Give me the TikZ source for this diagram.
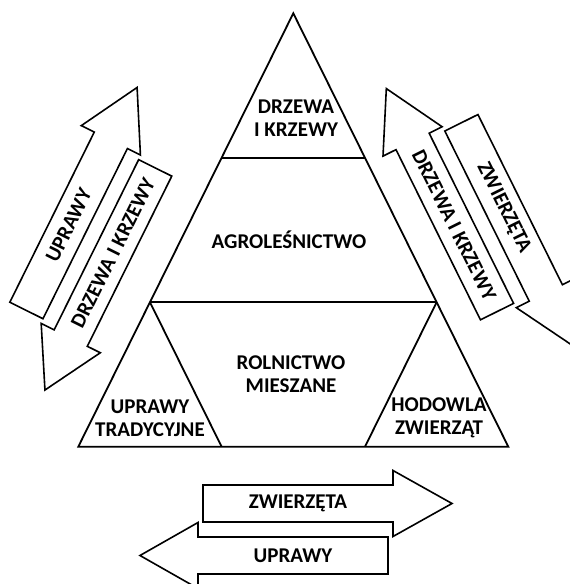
\documentclass[tikz,border=0pt]{standalone}
\usepackage{fontspec}
\setmainfont{Carlito}
\usetikzlibrary{calc}

\begin{document}
\begin{tikzpicture}[x=1pt,y=1pt]

        \useasboundingbox (0,0) rectangle (570,584);
        \clip (0,0) rectangle (570,584);

        \tikzset{every node/.style={font=\bfseries\fontsize{21}{22.8}\selectfont, align=center, inner sep=0pt},
          kontur/.style={draw, line width=1.8pt},
          strz/.style={draw, line width=1.6pt, fill=white}}

        \coordinate (A) at (293.3,570.7);
        \coordinate (B) at (78.3,137.3);
        \coordinate (C) at (508.3,137.3);
        \coordinate (l1) at ($(A)!1/3!(B)$);
        \coordinate (r1) at ($(A)!1/3!(C)$);
        \coordinate (l2) at ($(A)!2/3!(B)$);
        \coordinate (r2) at ($(A)!2/3!(C)$);
        \coordinate (b1) at ($(B)!1/3!(C)$);
        \coordinate (b2) at ($(B)!2/3!(C)$);

        \draw[kontur] (A) -- (B) -- (C) -- cycle;
        \draw[kontur] (l1) -- (r1);
        \draw[kontur] (l2) -- (r2);
        \draw[kontur] (l2) -- (b1);
        \draw[kontur] (r2) -- (b2);

        \node (drzewa)     at (296,466) {DRZEWA\\I KRZEWY};
        \node (agro)       at (289,344) {AGROLEŚNICTWO};
        \node (rolnictwo)  at (291,210) {ROLNICTWO\\MIESZANE};
        \node (tradycyjne) at (150,166) {UPRAWY\\TRADYCYJNE};
        \node (hodowla)    at (439,166) {HODOWLA\\ZWIERZĄT};

        \begin{scope}[shift={(90.8,344.8)}, rotate=63.6]
          \draw[strz] (-92.5,7.5) -- (97.5,7.5) -- (97.5,-7) -- (156.5,26) -- (97.5,59) -- (97.5,44.5) -- (-92.5,44.5) -- cycle;
          \draw[strz] (92.5,-7.5) -- (-97.5,-7.5) -- (-97.5,7) -- (-155.5,-26) -- (-97.5,-59) -- (-97.5,-44.5) -- (92.5,-44.5) -- cycle;
          \node[transform shape] (uplewo) at (2.5,26)  {UPRAWY};
          \node[transform shape] (drlewo) at (-2.5,-26) {DRZEWA I KRZEWY};
        \end{scope}

        \begin{scope}[shift={(479.2,366.8)}, rotate=116.4]
          \draw[strz] (-92.5,7.5) -- (97.5,7.5) -- (97.5,-7) -- (156.5,26) -- (97.5,59) -- (97.5,44.5) -- (-92.5,44.5) -- cycle;
          \draw[strz] (92.5,-7.5) -- (-97.5,-7.5) -- (-97.5,7) -- (-155.5,-26) -- (-97.5,-59) -- (-97.5,-44.5) -- (92.5,-44.5) -- cycle;
          \node[transform shape, rotate=180] (drprawo) at (4,26)  {DRZEWA I KRZEWY};
          \node[transform shape, rotate=180] (zwprawo) at (-2.5,-26) {ZWIERZĘTA};
        \end{scope}

        \begin{scope}[shift={(295.5,54.5)}]
          \draw[strz] (-92.5,7.5) -- (97.5,7.5) -- (97.5,-7) -- (156.5,26) -- (97.5,59) -- (97.5,44.5) -- (-92.5,44.5) -- cycle;
          \draw[strz] (92.5,-7.5) -- (-97.5,-7.5) -- (-97.5,7) -- (-155.5,-26) -- (-97.5,-59) -- (-97.5,-44.5) -- (92.5,-44.5) -- cycle;
          \node (zwdol) at (2.5,26)   {ZWIERZĘTA};
          \node (updol) at (-2.5,-26) {UPRAWY};
        \end{scope}

      \end{tikzpicture}
\end{document}
